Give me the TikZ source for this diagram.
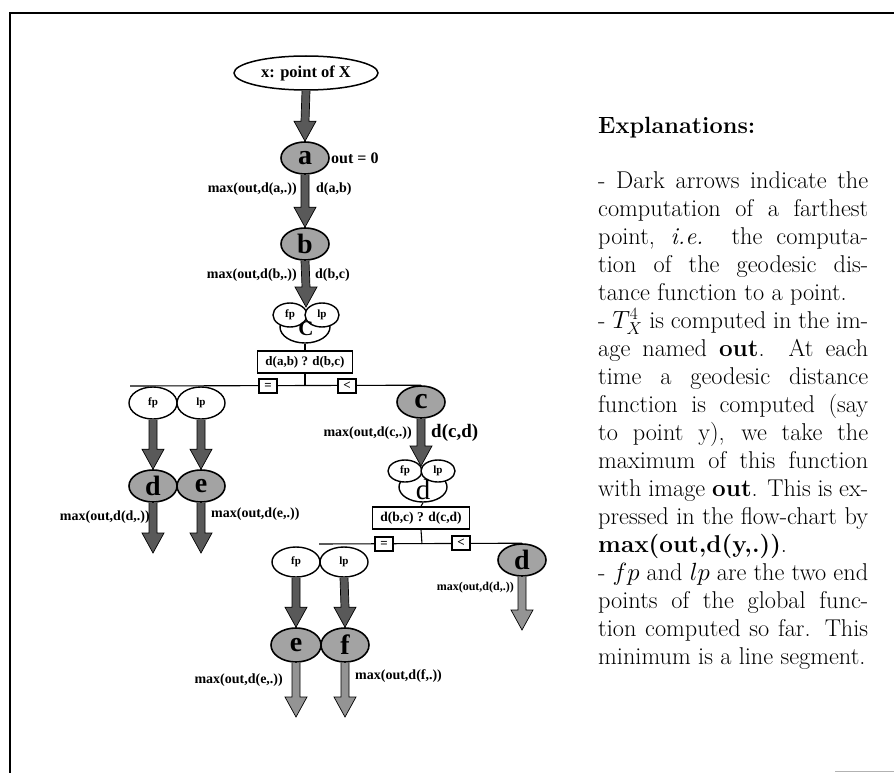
\documentclass[tikz,border=0pt]{standalone}
\usepackage{fontspec}
\newfontfamily\tms{Liberation Serif}
\usetikzlibrary{shapes.geometric,calc,backgrounds}
\newcommand\jl[1]{\makebox[270pt][s]{#1}}
\newcommand\jr[1]{\makebox[270pt][l]{#1}}
\newcommand\fatarrow[3][fatfill]{%
  \path (#2) coordinate (FAs) (#3) coordinate (FAt);
  \filldraw[fatline,#1] ($(FAs)+(-4,0)$) -- ($(FAt)+(-4,-20)$) -- ($(FAt)+(-11,-20)$) -- (FAt)
     -- ($(FAt)+(11,-20)$) -- ($(FAt)+(4,-20)$) -- ($(FAs)+(4,0)$);
}
\tikzset{
  fatline/.style={draw=black,line width=0.7pt},
  fatfill/.style={fill=black!65},
  lightfill/.style={fill=black!42},
  dark/.style={ellipse,draw,line width=1.6pt,fill=black!36,minimum width=48pt,minimum height=32pt,inner sep=0pt,
    font=\tms\bfseries\fontsize{28}{28}\selectfont},
  wht/.style={ellipse,draw,line width=1.4pt,fill=white,inner sep=0pt,font=\tms\bfseries\fontsize{11}{11}\selectfont},
  fpn/.style={wht,minimum width=34pt,minimum height=24pt},
  bfpn/.style={wht,minimum width=48pt,minimum height=32pt},
  bign/.style={wht,minimum width=50pt,minimum height=32pt},
  lbl/.style={font=\tms\bfseries\fontsize{14}{14}\selectfont,inner sep=0pt},
  cmp/.style={draw,line width=1.5pt,fill=white,inner sep=0pt,font=\tms\bfseries\fontsize{13}{13}\selectfont,minimum height=22pt},
  sbox/.style={draw,line width=1.4pt,fill=white,minimum width=18pt,minimum height=14pt,inner sep=0pt,
    font=\tms\bfseries\fontsize{13}{13}\selectfont},
  wire/.style={line width=1.1pt},
}
\begin{document}
\begin{tikzpicture}[x=1pt,y=-1pt]
\useasboundingbox (0,0) rectangle (894,773);
% frame
\draw[line width=1.1pt] (10,773) -- (10,13) -- (894,13);
\draw[black!30,line width=1pt] (835,771) -- (894,771);

% ---- top chain
\node[ellipse,draw,line width=1.5pt,fill=white,minimum width=144pt,minimum height=34pt,inner sep=0pt,
  font=\tms\bfseries\fontsize{16.5}{16.5}\selectfont] (X) at (306,73) {x: point of X};
\node[dark] (a) at (305,158) {a};
\node[lbl,anchor=west,font=\tms\bfseries\fontsize{16}{16}\selectfont] (out0) at (331,158) {out = 0};
\node[dark] (b) at (305,244) {b};
\node[lbl,anchor=east] (la1) at (297,189) {max(out,d(a,.))};
\node[lbl,anchor=west] (la2) at (316,189) {d(a,b)};
\node[lbl,anchor=east] (lb1) at (297,275) {max(out,d(b,.))};
\node[lbl,anchor=west] (lb2) at (315,275) {d(b,c)};

% merged node c
\node[bign] (cbig) at (305,327) {};
\node[fpn] (fpc) at (290,315) {fp};
\node[fpn] (lpc) at (322,315) {lp};
\node[inner sep=0pt,font=\tms\bfseries\fontsize{21}{21}\selectfont] (cl) at (306,329) {C};
\coordinate (cin) at (306,307);

\node[cmp,minimum width=95pt] (box1) at (305,362) {d(a,b) ? d(b,c)};
\coordinate (j1) at (305,386);
\coordinate (L1) at (130,386);
\node[sbox] (eq1) at (268,386) {=};
\node[sbox] (lt1) at (347,386) {<};

% left branch
\node[bfpn] (fp1) at (153,403) {fp};
\node[bfpn] (lp1) at (201,403) {lp};
\node[dark] (d1) at (153,486) {d};
\node[dark] (e1) at (201,486) {e};
\coordinate (d1end) at (153,553);
\coordinate (e1end) at (201,553);
\node[lbl,anchor=east] (ld1) at (150,517) {max(out,d(d,.))};
\node[lbl,anchor=west] (le1) at (211,514) {max(out,d(e,.))};

% right branch
\node[dark,font=\tms\bfseries\fontsize{30}{30}\selectfont] (c2) at (421,402) {c};
\node[lbl,anchor=east] (lc1) at (412,433) {max(out,d(c,.))};
\node[lbl,anchor=west,font=\tms\bfseries\fontsize{19}{19}\selectfont] (lc2) at (431,433) {d(c,d)};
\node[bign,minimum width=48pt,minimum height=30pt] (dbig) at (423,487) {};
\node[fpn,minimum height=22pt] (fpd) at (405,471) {fp};
\node[fpn,minimum height=22pt] (lpd) at (438,471) {lp};
\node[inner sep=0pt,font=\tms\fontsize{29}{29}\selectfont] (dl) at (423,490) {d};
\coordinate (din) at (421,466);

\node[cmp,minimum width=97pt,font=\tms\bfseries\fontsize{13.5}{13.5}\selectfont] (box2) at (421,518) {d(b,c) ? d(c,d)};
\coordinate (j2) at (422,544);
\coordinate (L2) at (319,544);
\node[sbox] (eq2) at (384,544) {=};
\node[sbox] (lt2) at (461,543) {<};

\node[dark] (d2) at (522,560) {d};
\coordinate (d2end) at (522,630);
\node[lbl,anchor=east,font=\tms\bfseries\fontsize{12}{12}\selectfont] (ld2) at (514,588) {max(out,d(d,.))};

\node[bfpn,minimum height=30pt] (fp3) at (296,562) {fp};
\node[bfpn,minimum height=30pt] (lp3) at (344,562) {lp};
\node[dark,minimum width=50pt,minimum height=34pt] (e2) at (296,645) {e};
\node[dark,minimum width=48pt,minimum height=34pt] (f2) at (345,645) {f};
\coordinate (e2end) at (296,717);
\coordinate (f2end) at (345,717);
\node[lbl,anchor=east] (le2) at (283,680) {max(out,d(e,.))};
\node[lbl,anchor=west] (lf2) at (355,676) {max(out,d(f,.))};

% wires behind
\begin{scope}[on background layer]
\draw[wire] (cbig.south) -- (box1.north);
\draw[wire] (box1.south) -- (j1);
\draw[wire] (L1) -- (c2.north);
\draw[wire] (dbig.south) -- (box2.north);
\draw[wire] (box2.south) -- (j2);
\draw[wire] (L2) -- (d2.north);
\end{scope}

% fat arrows
\fatarrow{X.south}{a.north}
\fatarrow{a.south}{b.north}
\fatarrow{b.south}{cin}
\fatarrow{fp1.south}{d1.north}
\fatarrow{lp1.south}{e1.north}
\fatarrow{d1.south}{d1end}
\fatarrow{e1.south}{e1end}
\fatarrow{c2.south}{din}
\fatarrow[lightfill]{d2.south}{d2end}
\fatarrow{fp3.south}{e2.north}
\fatarrow{lp3.south}{f2.north}
\fatarrow[lightfill]{e2.south}{e2end}
\fatarrow[lightfill]{f2.south}{f2end}

% explanations
\node[anchor=base west,inner sep=0pt,font=\fontsize{23.5}{28}\selectfont\bfseries] (title) at (598,134) {Explanations:};
\node[anchor=north west,inner sep=0pt,align=left,font=\fontsize{24.3}{28}\selectfont] (expl) at (598,171) {%
\jl{- Dark arrows indicate the}\\
\jl{computation of a farthest}\\
\jl{point, \textit{i.e.}\ \ the computa-}\\
\jl{tion of the geodesic dis-}\\
\jr{tance function to a point.}\\
\jl{- $T_X^4$ is computed in the im-}\\
\jl{age named \textbf{out}.\ \ At each}\\
\jl{time a geodesic distance}\\
\jl{function is computed (say}\\
\jl{to point y), we take the}\\
\jl{maximum of this function}\\
\jl{with image \textbf{out}. This is ex-}\\
\jl{pressed in the flow-chart by}\\
\jr{\textbf{max(out,d(y,.))}.}\\
\jl{- $fp$ and $lp$ are the two end}\\
\jl{points of the global func-}\\
\jl{tion computed so far. This}\\
\jr{minimum is a line segment.}};
\end{tikzpicture}
\end{document}
